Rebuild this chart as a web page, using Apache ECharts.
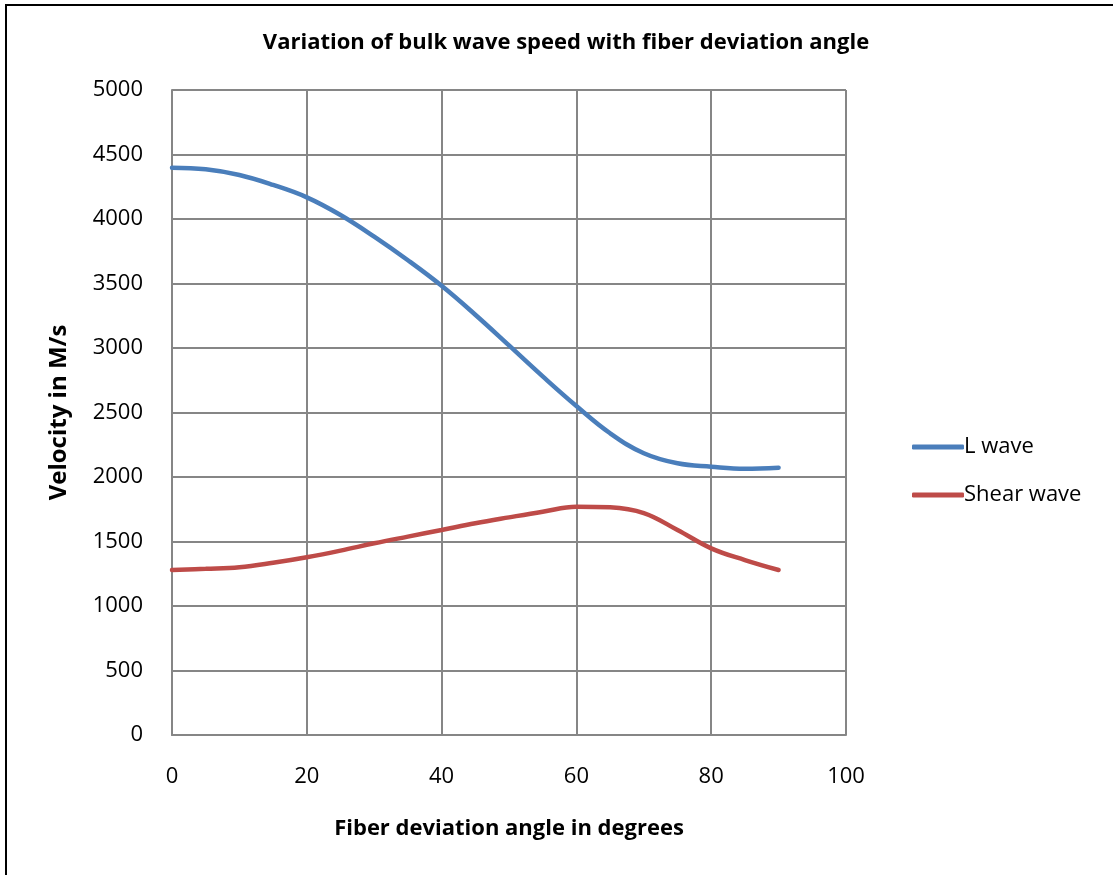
<!DOCTYPE html>
<html>
<head>
<meta charset="utf-8">
<script src="https://cdn.jsdelivr.net/npm/echarts@6/dist/echarts.min.js"></script>
<style>
html, body { margin: 0; padding: 0; background: #fff; }
#main { width: 1113px; height: 875px; }
</style>
</head>
<body>
<div id="main"></div>
<script>
// fiber deviation angle (degrees)
var angles = [0, 5, 10, 15, 20, 25, 30, 35, 40, 45, 50, 55, 60, 65, 70, 75, 80, 85, 90];
// velocities (m/s)
var lWave = [4398, 4385, 4341, 4264, 4168, 4031, 3863, 3680, 3482, 3258, 3020, 2780, 2550, 2339, 2184, 2106, 2080, 2064, 2072];
var shearWave = [1279, 1288, 1300, 1335, 1378, 1429, 1486, 1538, 1589, 1641, 1687, 1731, 1770, 1765, 1720, 1589, 1447, 1356, 1279];

function pairs(xs, ys) {
	var out = [];
	for (var i = 0; i < xs.length; i++) {
		out.push([xs[i], ys[i]]);
	}
	return out;
}

var myChart = echarts.init(document.getElementById('main'));

var fontName = '"Open Sans", "Noto Sans", sans-serif';
var gridColor = '#868686';

var option = {
	animation: false,
	backgroundColor: '#fff',
	textStyle: { fontFamily: fontName },
	graphic: [{
		type: 'rect',
		shape: { x: 6, y: 5, width: 1300, height: 1000 },
		style: { fill: 'none', stroke: '#000', lineWidth: 2 },
		silent: true
	}],
	title: {
		text: 'Variation of bulk wave speed with fiber deviation angle',
		left: 561,
		textAlign: 'center',
		top: 27,
		textStyle: { fontSize: 22, fontWeight: 'bold', color: '#000', fontFamily: fontName }
	},
	legend: {
		orient: 'vertical',
		left: 907,
		top: 431,
		itemWidth: 52,
		itemHeight: 5,
		itemGap: 26,
		icon: 'roundRect',
		textStyle: { fontSize: 22, color: '#000', padding: [0, 0, 0, -5], fontFamily: fontName },
		data: ['L wave', 'Shear wave']
	},
	grid: {
		left: 172,
		right: 267,
		top: 90,
		bottom: 140,
		containLabel: false
	},
	xAxis: {
		type: 'value',
		min: 0,
		max: 100,
		interval: 20,
		name: 'Fiber deviation angle in degrees',
		nameLocation: 'middle',
		nameGap: 83,
		nameTextStyle: { fontSize: 22, fontWeight: 'bold', color: '#000', fontFamily: fontName },
		axisLine: { show: true, lineStyle: { color: gridColor, width: 2 } },
		axisTick: { show: false },
		axisLabel: { fontSize: 22, color: '#000', margin: 31, lineHeight: 22, fontFamily: fontName },
		splitLine: { show: true, lineStyle: { color: gridColor, width: 2 } }
	},
	yAxis: {
		type: 'value',
		min: 0,
		max: 5000,
		interval: 500,
		name: 'Velocity in M/s',
		nameLocation: 'middle',
		nameGap: 101,
		nameRotate: 90,
		nameTextStyle: { fontSize: 24, fontWeight: 'bold', color: '#000', fontFamily: fontName },
		axisLine: { show: true, lineStyle: { color: gridColor, width: 2 } },
		axisTick: { show: false },
		axisLabel: {
			fontSize: 22, color: '#000', margin: 29, fontFamily: fontName,
			formatter: function (v) { return String(v); }
		},
		splitLine: { show: true, lineStyle: { color: gridColor, width: 2 } }
	},
	series: [{
		name: 'L wave',
		type: 'line',
		smooth: 0.4,
		showSymbol: false,
		data: pairs(angles, lWave),
		itemStyle: { color: '#4a7ebb' },
		lineStyle: { color: '#4a7ebb', width: 4.5, cap: 'round' }
	}, {
		name: 'Shear wave',
		type: 'line',
		smooth: 0.4,
		showSymbol: false,
		data: pairs(angles, shearWave),
		itemStyle: { color: '#be4b48' },
		lineStyle: { color: '#be4b48', width: 4.5, cap: 'round' }
	}]
};

myChart.setOption(option);
</script>
</body>
</html>
